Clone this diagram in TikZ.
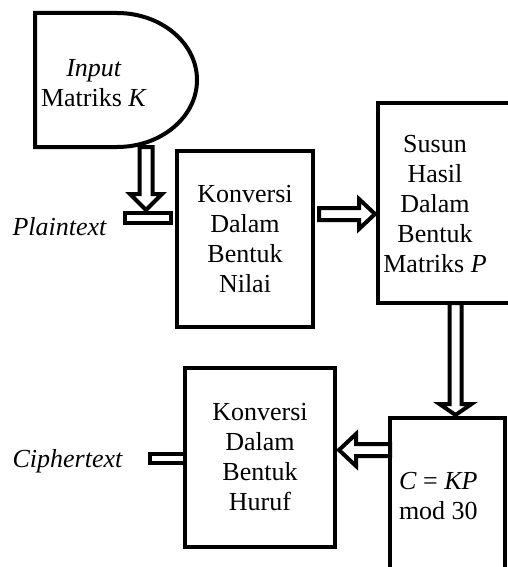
\documentclass[tikz,border=0pt]{standalone}
\usepackage{fontspec}
\setmainfont{Liberation Serif}
\usetikzlibrary{calc}
\tikzset{
  every node/.style={font=\fontsize{26}{30}\selectfont, inner sep=0pt, outer sep=0pt},
  boxnode/.style={draw, line width=4pt, rectangle},
  blk/.style={draw, line width=4pt, fill=white, line join=miter},
  tabnode/.style={draw, line width=4pt, fill=white, rectangle},
  lbl/.style={font=\fontsize{26}{30}\selectfont\itshape},
}
\newcommand\blkarrow[5]{% start, tip, shaft half width, head half width, head length
  \path ($(#2)!#5!(#1)$) coordinate (hb);
  \draw[blk] ($(#1)!#3!90:(#2)$) -- ($(hb)!#3!90:(#2)$) -- ($(hb)!#4!90:(#2)$) -- (#2)
    -- ($(hb)!#4!-90:(#2)$) -- ($(hb)!#3!-90:(#2)$) -- ($(#1)!#3!-90:(#2)$) -- cycle;}
\begin{document}
\begin{tikzpicture}[x=1pt,y=-1pt]
\useasboundingbox (0,0) rectangle (508,567);
\clip (0,0) rectangle (508,567);

% input (delay) shape
\draw[line width=4pt, line join=miter] (35,13) -- (117,13) arc[start angle=90, end angle=-90, x radius=80pt, y radius=67pt] -- (35,147) -- cycle;
\node[align=center] (in) at (94,83) {\textit{Input}\hspace{20pt}\\Matriks \textit{K}};

% boxes
\node[boxnode, minimum width=136pt, minimum height=176pt, align=center] (b1) at (245,239) {Konversi\\Dalam\\Bentuk\\Nilai};
\node[boxnode, minimum width=200pt, minimum height=200pt] (b2) at (478,203) {};
\node[align=center] (b2t) at (435,204) {Susun\\Hasil\\Dalam\\Bentuk\\Matriks \textit{P}};
\node[boxnode, minimum width=115pt, minimum height=202pt] (b3) at (447.5,519) {};
\node[align=left, anchor=west] (b3t) at (399,496) {\textit{C} = \textit{KP}\\mod 30};
\node[boxnode, minimum width=150pt, minimum height=179pt, align=center] (b4) at (260,457.5) {Konversi\\Dalam\\Bentuk\\Huruf};

% plaintext / ciphertext tabs
\node[tabnode, minimum width=46pt, minimum height=10pt] (ptab) at (148,218) {};
\node[lbl, anchor=base] (pt) at (59.5,235) {Plaintext};
\node[tabnode, minimum width=35pt, minimum height=9pt, anchor=east] (ctab) at (b4.west |- 0,458) {};
\node[lbl, anchor=base] (ct) at (67.5,467) {Ciphertext};

% connectors (block arrows)
\coordinate (a1s) at (146,147);
\coordinate (a1e) at (ptab.north -| a1s);
\coordinate (a1t) at ($(a1e)+(0,-3)$);
\blkarrow{a1s}{a1t}{6.5pt}{16pt}{16pt}

\coordinate (a2s) at ($(b1.east |- 0,214)+(6,0)$);
\coordinate (a2t) at ($(b2.west |- 0,214)+(-3,0)$);
\blkarrow{a2s}{a2t}{6pt}{15pt}{16pt}

\coordinate (a3s) at (b2.south -| 455.5,0);
\coordinate (a3t) at ($(b3.north -| 455.5,0)+(0,-3)$);
\blkarrow{a3s}{a3t}{6pt}{16pt}{11pt}

\coordinate (a4s) at (b3.west |- 0,450);
\coordinate (a4t) at ($(b4.east |- 0,450)+(4,0)$);
\blkarrow{a4s}{a4t}{6pt}{16pt}{17pt}

% redraw box borders over arrow ends
\draw[line width=4pt] (b2.south west) -- (b2.south east);
\draw[line width=4pt] (b3.north west) -- (b3.south west);
\end{tikzpicture}
\end{document}
